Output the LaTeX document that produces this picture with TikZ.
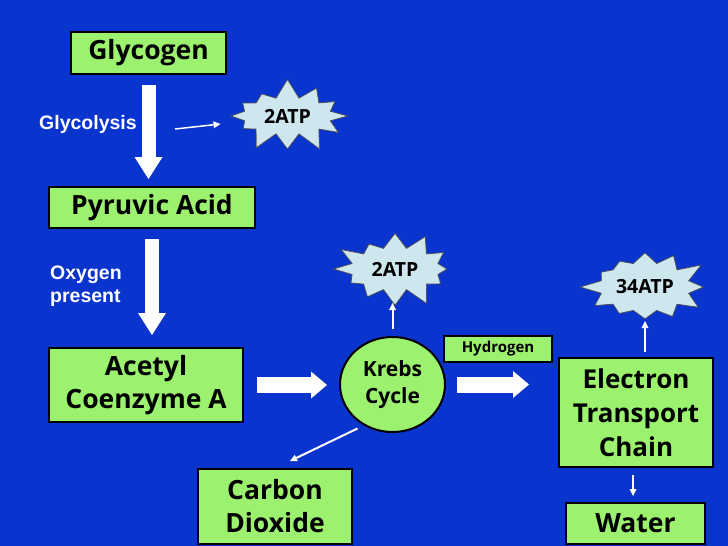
\documentclass[tikz,border=0pt]{standalone}
\usepackage{fontspec}
\newfontfamily\boxfont{Open Sans}
\newfontfamily\labelfont{Liberation Sans}
\usetikzlibrary{shapes.geometric, shapes.symbols, arrows.meta, calc}
\definecolor{slideblue}{RGB}{10,52,206}
\definecolor{boxgreen}{RGB}{156,242,110}
\definecolor{burstblue}{RGB}{206,230,238}

\begin{document}
\begin{tikzpicture}[x=1pt, y=-1pt,
  box/.style={draw=black, line width=2pt, fill=boxgreen, align=center, inner sep=0pt, font=\boxfont\bfseries\fontsize{26.5}{33}\selectfont},
  burst/.style={starburst, draw=black!70, line width=0.7pt, fill=burstblue, starburst points=12, starburst point height=20pt, inner xsep=8pt, inner ysep=6pt, font=\boxfont\bfseries\fontsize{19.5}{20}\selectfont},
  side/.style={text=white, inner sep=0pt, align=left, font=\labelfont\bfseries\fontsize{19.5}{23}\selectfont},
  downarrow/.style={white, line width=14pt, -{Triangle[length=22pt, width=28pt, line width=0pt]}},
  sidearrow/.style={white, line width=16pt, -{Triangle[length=16pt, width=27pt, line width=0pt]}},
  smallarrow/.style={white, line width=2pt, -{Triangle[length=7pt, width=7pt, line width=0pt]}}]
\fill [slideblue] (0,0) rectangle (728,546);
\node [box, minimum width=155pt, minimum height=42pt] (glycogen) at (148.5,53) {Glycogen};
\node [box, minimum width=206pt, minimum height=41pt] (pyruvic) at (152,207.5) {Pyruvic Acid};
\node [box, minimum width=194pt, minimum height=74pt] (acetyl) at (146,385) {Acetyl\\Coenzyme A};
\node [ellipse, draw=black, line width=2pt, fill=boxgreen, align=center, inner sep=0pt, minimum width=105pt, minimum height=95pt, font=\boxfont\bfseries\fontsize{21}{27}\selectfont] (krebs) at (392.5,384.5) {Krebs\\Cycle};
\node [box, minimum width=108pt, minimum height=26pt, font=\boxfont\bfseries\fontsize{15}{15}\selectfont] (hydrogen) at (498,349) {Hydrogen};
\node [box, minimum width=154pt, minimum height=109pt, font=\boxfont\bfseries\fontsize{26}{34}\selectfont] (etc) at (636,412.5) {Electron\\Transport\\Chain};
\node [box, minimum width=154pt, minimum height=75pt] (co2) at (275,506.5) {Carbon\\Dioxide};
\node [box, minimum width=139pt, minimum height=41pt] (water) at (635.5,523.5) {Water};
\node [burst, random starburst=7] (atp1) at (287.5,116) {2ATP};
\node [burst, random starburst=21, inner ysep=8pt] (atp2) at (395,269) {2ATP};
\node [burst, random starburst=45, inner xsep=3pt, inner ysep=10pt] (atp3) at (645,287) {34ATP};
\node [side, anchor=base west] (glycolysis) at (39,129) {Glycolysis};
\node [side, anchor=north west] (oxygen) at (50,266) {Oxygen\\present};
\coordinate (glystart) at (175,129);
\draw [downarrow, shorten <=10pt, shorten >=7pt] (glycogen.south) -- (glycogen.south |- pyruvic.north);
\draw [downarrow, shorten <=10pt, shorten >=12pt] (pyruvic.south) -- (pyruvic.south |- acetyl.north);
\draw [sidearrow, shorten <=13pt, shorten >=12pt] (acetyl.east) -- (acetyl.east -| krebs.west);
\draw [sidearrow, shorten <=11pt, shorten >=29pt] (krebs.east) -- (krebs.east -| etc.west);
\draw [smallarrow, line width=1.5pt] (glystart) -- ($(atp1)+(-67,8)$);
\draw [smallarrow] ($(krebs.north)+(0,-7)$) -- ($(krebs.north)+(0,-33)$);
\draw [smallarrow] ($(etc.north)+(9,-5)$) -- ($(etc.north)+(9,-36)$);
\draw [smallarrow] ($(etc.south)+(-3,7)$) -- ($(water.north)+(-2.5,-6)$);
\draw [smallarrow] ($(krebs)+(-35,44)$) -- ($(co2.north)+(15,-7)$);
\end{tikzpicture}
\end{document}
